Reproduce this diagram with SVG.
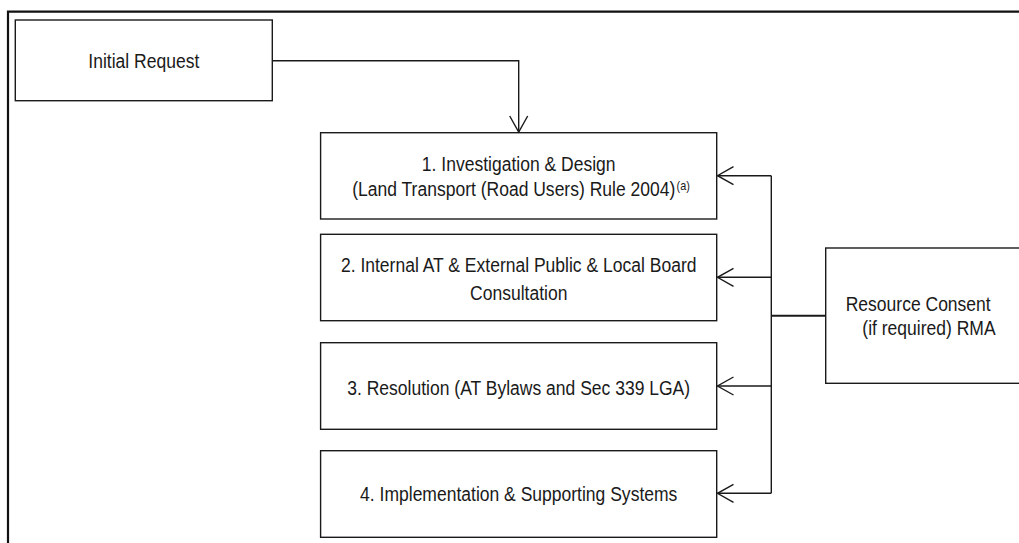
<svg xmlns="http://www.w3.org/2000/svg" width="1019" height="543" viewBox="0 0 1019 543">
<style>
.box{fill:#fff;stroke:#1a1a1a;stroke-width:1.4}
.t{font-family:"Liberation Sans",Arial,sans-serif;font-size:21px;fill:#1a1a1a;text-anchor:middle}
.s{text-anchor:start}
.c{fill:none;stroke:#1a1a1a;stroke-width:1.4}
</style>
<defs>
<marker id="arr" markerUnits="userSpaceOnUse" markerWidth="22" markerHeight="22" viewBox="-19 -11 22 22" refX="0" refY="0" orient="auto">
<path d="M-16,-9 L0,0 L-16,9" fill="none" stroke="#1a1a1a" stroke-width="1.4"/>
</marker>
</defs>
<rect width="1019" height="543" fill="#fff"/>
<path d="M8,543 V11.7 H1019" fill="none" stroke="#111" stroke-width="2.2"/>
<g id="initial-request">
<rect class="box" x="15.3" y="20" width="257" height="80.7"/>
<text class="t" transform="translate(143.8,68) scale(0.834,1)">Initial Request</text>
</g>
<g id="step1">
<rect class="box" x="320.6" y="132.7" width="396.1" height="86.3"/>
<text class="t" transform="translate(518.7,171) scale(0.834,1)">1. Investigation &amp; Design</text>
<text class="t" transform="translate(521,196) scale(0.834,1)">(Land Transport (Road Users) Rule 2004)<tspan font-size="13" dx="1.5" dy="-6">(a)</tspan></text>
</g>
<g id="step2">
<rect class="box" x="320.6" y="234.3" width="396.1" height="86.4"/>
<text class="t" transform="translate(518.7,272) scale(0.834,1)">2. Internal AT &amp; External Public &amp; Local Board</text>
<text class="t" transform="translate(518.7,299.5) scale(0.834,1)">Consultation</text>
</g>
<g id="step3">
<rect class="box" x="320.6" y="342.7" width="396.1" height="86.6"/>
<text class="t" transform="translate(518.7,395) scale(0.834,1)">3. Resolution (AT Bylaws and Sec 339 LGA)</text>
</g>
<g id="step4">
<rect class="box" x="320.6" y="450.7" width="396.1" height="86.6"/>
<text class="t" transform="translate(518.7,501) scale(0.834,1)">4. Implementation &amp; Supporting Systems</text>
</g>
<g id="resource-consent">
<rect class="box" x="825.7" y="248" width="210" height="135.3"/>
<text class="t s" transform="translate(845.7,311) scale(0.834,1)">Resource Consent</text>
<text class="t s" transform="translate(862.3,335) scale(0.834,1)">(if required) RMA</text>
</g>
<g id="connectors">
<path class="c" d="M272.3,60.7 H518.7 V132" marker-end="url(#arr)"/>
<path class="c" d="M825.7,315.7 H771.3" style="stroke-width:2"/>
<path class="c" d="M771.3,175.7 V493.3"/>
<path class="c" d="M771.3,175.7 H717.5" marker-end="url(#arr)"/>
<path class="c" d="M771.3,277.3 H717.5" marker-end="url(#arr)"/>
<path class="c" d="M771.3,386 H717.5" marker-end="url(#arr)"/>
<path class="c" d="M771.3,493.3 H717.5" marker-end="url(#arr)"/>
</g>
</svg>
